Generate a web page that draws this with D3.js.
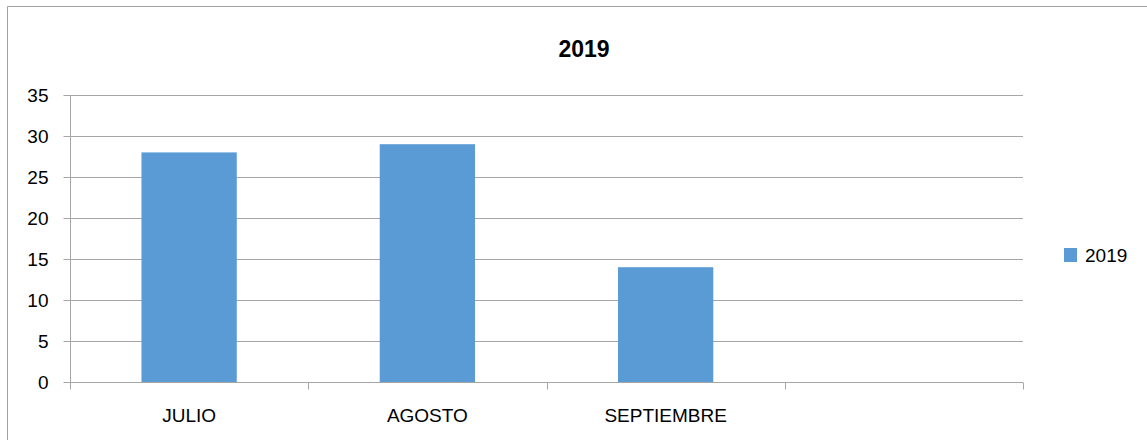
<!DOCTYPE html>
<html>
<head>
<meta charset="utf-8">
<script src="https://cdn.jsdelivr.net/npm/d3@7"></script>
<style>
  body { margin: 0; background: #fff; overflow: hidden; }
  svg { display: block; }
  text { font-family: "Liberation Sans", Arial, sans-serif; fill: #000; }
</style>
</head>
<body>
<div id="chart"></div>
<script>
// data
const categories = ["JULIO", "AGOSTO", "SEPTIEMBRE", ""];
const values2019 = [28, 29, 14, null];
const yTicks = [0, 5, 10, 15, 20, 25, 30, 35];
const seriesName = "2019";
const chartTitle = "2019";

const width = 1147, height = 440;
const margin = { top: 95, right: 124, bottom: 58, left: 70 };
const innerWidth = width - margin.left - margin.right;
const innerHeight = height - margin.top - margin.bottom;

const svg = d3.select("#chart").append("svg")
    .attr("width", width)
    .attr("height", height);

// outer chart border (only left and top edges fall inside the picture)
svg.append("path")
    .attr("d", `M7.5,${height}V6.5H${width}`)
    .attr("fill", "none")
    .attr("stroke", "#a0a0a0");

const g = svg.append("g")
    .attr("transform", `translate(${margin.left},${margin.top})`);

const x = d3.scaleBand()
    .domain(d3.range(categories.length))
    .range([0, innerWidth])
    .paddingInner(0.6)
    .paddingOuter(0.3);

const xTickScale = d3.scaleLinear()
    .domain([0, categories.length])
    .range([0, innerWidth]);

const y = d3.scaleLinear()
    .domain([0, 35])
    .range([innerHeight, 0]);

// gridlines
g.selectAll(".grid")
    .data(yTicks.filter(d => d > 0))
    .enter().append("line")
    .attr("x1", 0).attr("x2", innerWidth)
    .attr("y1", d => Math.round(y(d)) + 0.5)
    .attr("y2", d => Math.round(y(d)) + 0.5)
    .attr("stroke", "#a6a6a6");

// bars
g.selectAll(".bar")
    .data(values2019.map((v, i) => ({ v, i })).filter(d => d.v != null))
    .enter().append("rect")
    .attr("x", d => x(d.i))
    .attr("y", d => y(d.v))
    .attr("width", x.bandwidth())
    .attr("height", d => innerHeight - y(d.v))
    .attr("fill", "#5b9bd5");

// y axis
const yAxis = g.append("g")
    .attr("transform", "translate(0.5,0)")
    .call(d3.axisLeft(y).tickValues(yTicks).tickSize(7).tickPadding(15))
    .call(a => a.select(".domain").attr("stroke", "#a6a6a6").attr("d", `M0,${y(35)}V${innerHeight}`));
yAxis.attr("font-family", null).attr("font-size", null);
yAxis.selectAll(".tick line").attr("stroke", "#a6a6a6");
yAxis.selectAll(".tick text").style("font-size", "19px").attr("dy", "0.36em");

// x axis with boundary ticks
const xAxis = g.append("g")
    .attr("transform", `translate(0,${Math.round(innerHeight) + 0.5})`);
xAxis.append("line")
    .attr("x1", 0).attr("x2", innerWidth)
    .attr("stroke", "#a6a6a6");
xAxis.selectAll(".xtick")
    .data(d3.range(categories.length + 1))
    .enter().append("line")
    .attr("x1", d => Math.round(xTickScale(d)) + 0.5)
    .attr("x2", d => Math.round(xTickScale(d)) + 0.5)
    .attr("y1", 0).attr("y2", 7)
    .attr("stroke", "#a6a6a6");
xAxis.selectAll(".xlabel")
    .data(categories.map((c, i) => ({ c, i })).filter(d => d.c !== ""))
    .enter().append("text")
    .attr("x", d => x(d.i) + x.bandwidth() / 2)
    .attr("y", 39)
    .attr("text-anchor", "middle")
    .style("font-size", "19px")
    .text(d => d.c);

// title
svg.append("text")
    .attr("x", 584).attr("y", 57)
    .attr("text-anchor", "middle")
    .style("font-size", "23px")
    .style("font-weight", "bold")
    .text(chartTitle);

// legend
const legend = svg.append("g").attr("transform", "translate(1064,248)");
legend.append("rect")
    .attr("width", 13).attr("height", 14)
    .attr("fill", "#5b9bd5");
legend.append("text")
    .attr("x", 21).attr("y", 14)
    .style("font-size", "19px")
    .text(seriesName);
</script>
</body>
</html>
